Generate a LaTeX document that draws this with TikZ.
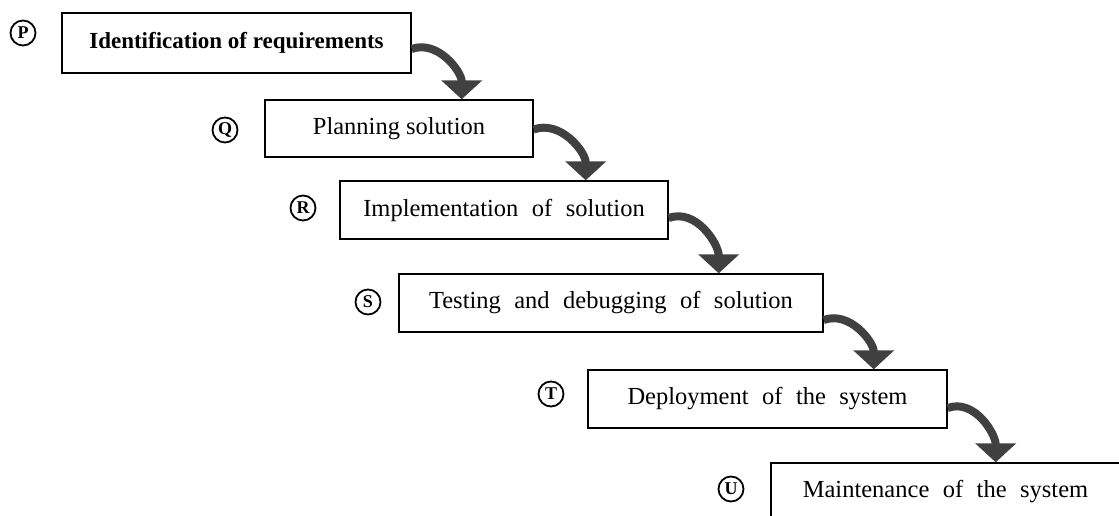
\documentclass[tikz,border=0pt]{standalone}
\usepackage{fontspec}
\setmainfont{Liberation Serif}
\usetikzlibrary{arrows.meta}

\tikzset{
  stepbox/.style={draw, line width=1.4pt, inner sep=0pt, font=\fontsize{24.5}{28}\selectfont},
  widewords/.style={execute at begin node={\spaceskip=0.55em\relax}},
  steptag/.style={draw, circle, line width=1.8pt, minimum size=25pt, inner sep=0pt, font=\bfseries\fontsize{18}{18}\selectfont},
  stepflow/.style={draw=black!75, line width=8pt, -{Triangle[width=40pt,length=19pt]}},
}

\begin{document}
\begin{tikzpicture}[x=1pt,y=1pt]
\useasboundingbox (0,0) rectangle (1119,516);
\clip (0,0) rectangle (1119,516);

% the six steps
\node[stepbox, minimum width=349pt, minimum height=60pt, font=\bfseries\fontsize{23}{28}\selectfont] (p) at (236.5,473) {Identification of requirements};
\node[stepbox, minimum width=268pt, minimum height=57pt] (q) at (399,387.5) {Planning solution};
\node[stepbox, widewords, minimum width=328pt, minimum height=58pt] (r) at (504,306) {Implementation of solution};
\node[stepbox, widewords, minimum width=424pt, minimum height=58pt] (s) at (611,213) {Testing and debugging of solution};
\node[stepbox, widewords, minimum width=359pt, minimum height=58pt] (t) at (767.5,117) {Deployment of the system};
\node[stepbox, widewords, minimum width=349pt, minimum height=58pt] (u) at (945.5,24) {Maintenance of the system};

% circled letters
\node[steptag] (tp) at (23,483) {P};
\node[steptag] (tq) at (225,386) {Q};
\node[steptag] (tr) at (303,308) {R};
\node[steptag] (ts) at (368,214) {S};
\node[steptag] (tt) at (551,122) {T};
\node[steptag] (tu) at (731,27) {U};

% arrow tips on the next box
\coordinate (pq) at ([xshift=50pt]p.east |- q.north);
\coordinate (qr) at ([xshift=52pt]q.east |- r.north);
\coordinate (rs) at ([xshift=50pt]r.east |- s.north);
\coordinate (st) at ([xshift=50pt]s.east |- t.north);
\coordinate (tu2) at ([xshift=48pt]t.east |- u.north);

\draw[stepflow] ([yshift=-6pt]p.east) to[out=20,in=90] (pq);
\draw[stepflow] ([yshift=-1pt]q.east) to[out=20,in=90] (qr);
\draw[stepflow] ([yshift=-8pt]r.east) to[out=20,in=90] (rs);
\draw[stepflow] ([yshift=-17pt]s.east) to[out=20,in=90] (st);
\draw[stepflow] ([yshift=-9pt]t.east) to[out=20,in=90] (tu2);

\end{tikzpicture}
\end{document}
